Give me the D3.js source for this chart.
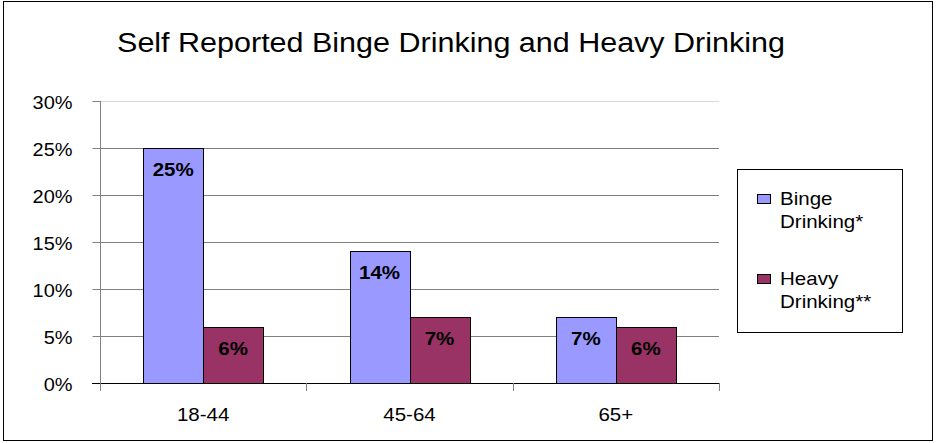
<!DOCTYPE html>
<html>
<head>
<meta charset="utf-8">
<script src="https://cdn.jsdelivr.net/npm/d3@7"></script>
<style>
  html, body { margin: 0; padding: 0; background: #fff; }
  svg { display: block; font-family: "Liberation Sans", Arial, sans-serif; }
</style>
</head>
<body>
<svg id="chart" width="937" height="443"></svg>
<script>
// Age groups and survey percentages
const categories = ["18-44", "45-64", "65+"];
const seriesNames = ["Binge Drinking*", "Heavy Drinking**"];
const bingeValues = [25, 14, 7];
const heavyValues = [6, 7, 6];
const yTicks = [0, 5, 10, 15, 20, 25, 30];
const seriesColors = ["#9999FF", "#993366"];

const svg = d3.select("#chart");

// text is drawn slightly widened, like the original office-style rendering
const WIDE = 1.14;
function placeText(sel, xf, yf, sx) {
  sel.attr("x", null).attr("y", null)
    .attr("transform", (d, i) => `translate(${xf(d, i)},${yf(d, i)}) scale(${sx},1)`);
  return sel;
}

// outer frame
svg.append("rect")
  .attr("x", 3.5).attr("y", 1.5)
  .attr("width", 929).attr("height", 439)
  .attr("fill", "#fff").attr("stroke", "#000").attr("stroke-width", 1);

// title
svg.append("text")
  .attr("text-anchor", "middle")
  .attr("font-size", 28)
  .attr("fill", "#000")
  .text("Self Reported Binge Drinking and Heavy Drinking")
  .call(placeText, () => 451, () => 52, 1.09);

const plot = { left: 100, right: 719, top: 101, bottom: 383 };

const x = d3.scaleBand()
  .domain(categories)
  .range([plot.left, plot.right]);

const y = d3.scaleLinear()
  .domain([0, 30])
  .range([plot.bottom, plot.top]);

const barW = 60;
const groupOffset = (x.bandwidth() - 2 * barW) / 2;

// horizontal gridlines
svg.append("g")
  .selectAll("line")
  .data(yTicks.filter(d => d > 0))
  .join("line")
  .attr("x1", plot.left).attr("x2", plot.right)
  .attr("y1", d => Math.round(y(d)) + 0.5)
  .attr("y2", d => Math.round(y(d)) + 0.5)
  .attr("stroke", d => d === 30 ? "#d8d8d8" : "#808080")
  .attr("stroke-width", 1);

// y axis
const yAxis = d3.axisLeft(y)
  .tickValues(yTicks)
  .tickFormat(d => d + "%")
  .tickSize(8);

const gy = svg.append("g")
  .attr("transform", `translate(${plot.left + 0.5},0)`)
  .call(yAxis);
gy.select(".domain").attr("stroke", "#808080").attr("d", `M0,${plot.top}V${plot.bottom}`);
gy.selectAll(".tick line").attr("stroke", "#808080");
gy.selectAll(".tick text")
  .attr("dy", null)
  .attr("font-size", 17.5)
  .attr("font-family", "Liberation Sans, Arial, sans-serif")
  .attr("fill", "#000")
  .call(placeText, () => -28, () => 7.5, WIDE);

// bars
const series = [bingeValues, heavyValues];
series.forEach((vals, si) => {
  const rows = categories.map((c, i) => ({ c, v: vals[i] }));
  svg.append("g")
    .selectAll("rect")
    .data(rows)
    .join("rect")
    .attr("x", d => Math.round(x(d.c) + groupOffset + si * barW) + 0.5)
    .attr("y", d => Math.round(y(d.v)) + 0.5)
    .attr("width", barW)
    .attr("height", d => Math.round(y(0)) - Math.round(y(d.v)))
    .attr("fill", seriesColors[si])
    .attr("stroke", "#000")
    .attr("stroke-width", 1);

  svg.append("g")
    .selectAll("text")
    .data(rows)
    .join("text")
    .attr("text-anchor", "middle")
    .attr("font-size", 18)
    .attr("font-weight", "bold")
    .attr("fill", "#000")
    .text(d => d.v + "%")
    .call(placeText,
      d => x(d.c) + groupOffset + si * barW + barW / 2,
      d => y(d.v) + 28, WIDE);
});

// x axis
const xAxis = d3.axisBottom(x).tickSize(0).tickPadding(0).tickFormat("");
const gx = svg.append("g")
  .attr("transform", `translate(0,${plot.bottom + 0.5})`)
  .call(xAxis);
gx.select(".domain").attr("stroke", "#000").attr("d", `M${plot.left - 8},0H${plot.right}`);

// category separator ticks
const sepPositions = categories.map(c => x(c)).concat([x.range()[1]]);
svg.append("g")
  .selectAll("line")
  .data(sepPositions)
  .join("line")
  .attr("x1", d => Math.round(d) + 0.5).attr("x2", d => Math.round(d) + 0.5)
  .attr("y1", plot.bottom).attr("y2", plot.bottom + 8)
  .attr("stroke", "#808080");

// category labels
svg.append("g")
  .selectAll("text")
  .data(categories)
  .join("text")
  .attr("text-anchor", "middle")
  .attr("font-size", 18)
  .attr("fill", "#000")
  .text(d => d)
  .call(placeText, d => x(d) + x.bandwidth() / 2, () => 421, WIDE);

// legend
const legend = svg.append("g");
legend.append("rect")
  .attr("x", 737.5).attr("y", 169.5)
  .attr("width", 165).attr("height", 163)
  .attr("fill", "#fff").attr("stroke", "#000");

const legendRows = [
  { lines: ["Binge", "Drinking*"], top: 205 },
  { lines: ["Heavy", "Drinking**"], top: 285 }
];
legendRows.forEach((row, i) => {
  legend.append("rect")
    .attr("x", 757.5).attr("y", row.top - 10.5)
    .attr("width", 13).attr("height", 9)
    .attr("fill", seriesColors[i]).attr("stroke", "#000");
  legend.append("g")
    .selectAll("text")
    .data(row.lines)
    .join("text")
    .attr("font-size", 18)
    .attr("fill", "#000")
    .text(t => t)
    .call(placeText, () => 780, (t, j) => row.top + j * 23, WIDE);
});
</script>
</body>
</html>
